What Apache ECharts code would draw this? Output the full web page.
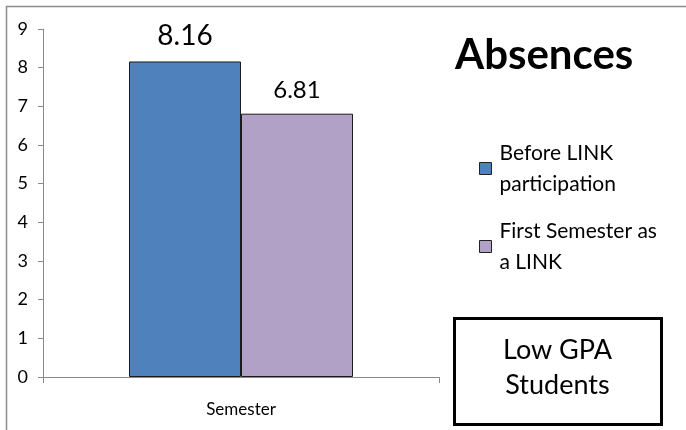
<!DOCTYPE html>
<html>
<head>
<meta charset="utf-8">
<script src="https://cdn.jsdelivr.net/npm/echarts@6/dist/echarts.min.js"></script>
<style>
  html, body { margin: 0; padding: 0; background: #fff; }
  #chart { width: 686px; height: 430px; }
</style>
</head>
<body>
<div id="chart"></div>
<script>
// Average absences per student, before and during LINK participation
const categories = ['Semester'];
const seriesNames = ['Before LINK participation', 'First Semester as a LINK'];
const legendLabels = ['Before LINK\nparticipation', 'First Semester as\na LINK'];
const beforeValues = [8.16];
const firstSemesterValues = [6.81];
const yTicks = [0, 1, 2, 3, 4, 5, 6, 7, 8, 9];

const FONT = 'Lato, "Open Sans", sans-serif';
const AXIS_GREY = '#8a8a8a';

const chart = echarts.init(document.getElementById('chart'), null, { renderer: 'canvas' });

function legendFor(i, top) {
  return {
    data: [seriesNames[i]],
    left: 479,
    top: top,
    padding: 0,
    orient: 'vertical',
    itemWidth: 12,
    itemHeight: 12,
    icon: 'rect',
    selectedMode: false,
    formatter: () => legendLabels[i],
    itemStyle: { borderColor: '#222', borderWidth: 1 },
    textStyle: {
      fontFamily: FONT,
      fontSize: 21,
      color: '#000',
      lineHeight: 31,
      padding: [31, 0, 0, 3]
    }
  };
}

chart.setOption({
  animation: false,
  backgroundColor: '#fff',
  title: {
    text: 'Absences',
    left: 455,
    top: 34,
    padding: 0,
    textStyle: { fontFamily: FONT, fontSize: 42, fontWeight: 'bold', color: '#000' }
  },
  legend: [legendFor(0, 122), legendFor(1, 200)],
  grid: { left: 43, right: 247, top: 29, bottom: 53, containLabel: false },
  xAxis: {
    type: 'category',
    data: categories,
    axisLine: { lineStyle: { color: AXIS_GREY, width: 1 } },
    axisTick: { show: true, length: 6, lineStyle: { color: AXIS_GREY } },
    axisLabel: { fontFamily: FONT, fontSize: 17, color: '#000', margin: 24 }
  },
  yAxis: {
    type: 'value',
    min: yTicks[0],
    max: yTicks[yTicks.length - 1],
    interval: 1,
    splitLine: { show: false },
    axisLine: { show: true, lineStyle: { color: AXIS_GREY, width: 1 } },
    axisTick: { show: true, length: 5, lineStyle: { color: AXIS_GREY } },
    axisLabel: { fontFamily: FONT, fontSize: 18, color: '#000', margin: 15 }
  },
  series: [
    {
      name: seriesNames[0],
      type: 'bar',
      data: beforeValues,
      barWidth: 112,
      barGap: '0%',
      itemStyle: { color: '#4f81bd', borderColor: '#1c1c1c', borderWidth: 1 },
      label: {
        show: true, position: 'top', distance: 12,
        fontFamily: FONT, fontSize: 28, color: '#000',
        formatter: p => p.value.toFixed(2)
      }
    },
    {
      name: seriesNames[1],
      type: 'bar',
      data: firstSemesterValues,
      barWidth: 112,
      barGap: '0%',
      itemStyle: { color: '#b2a1c7', borderColor: '#1c1c1c', borderWidth: 1 },
      label: {
        show: true, position: 'top', distance: 11,
        fontFamily: FONT, fontSize: 24, color: '#000',
        formatter: p => p.value.toFixed(2)
      }
    }
  ],
  graphic: [
    {
      type: 'rect',
      silent: true,
      z: -1,
      shape: { x: 6.5, y: 6.5, width: 720, height: 520 },
      style: { fill: 'none', stroke: '#8c8c8c', lineWidth: 1.5 }
    },
    {
      type: 'group',
      silent: true,
      children: [
        {
          type: 'rect',
          shape: { x: 454.5, y: 318.5, width: 207, height: 106 },
          style: { fill: '#fff', stroke: '#000', lineWidth: 3 }
        },
        {
          type: 'text',
          x: 557.5,
          y: 368,
          style: {
            text: 'Low GPA\nStudents',
            align: 'center',
            verticalAlign: 'middle',
            fontFamily: FONT,
            fontSize: 27,
            lineHeight: 35,
            fill: '#000'
          }
        }
      ]
    }
  ]
});
</script>
</body>
</html>
